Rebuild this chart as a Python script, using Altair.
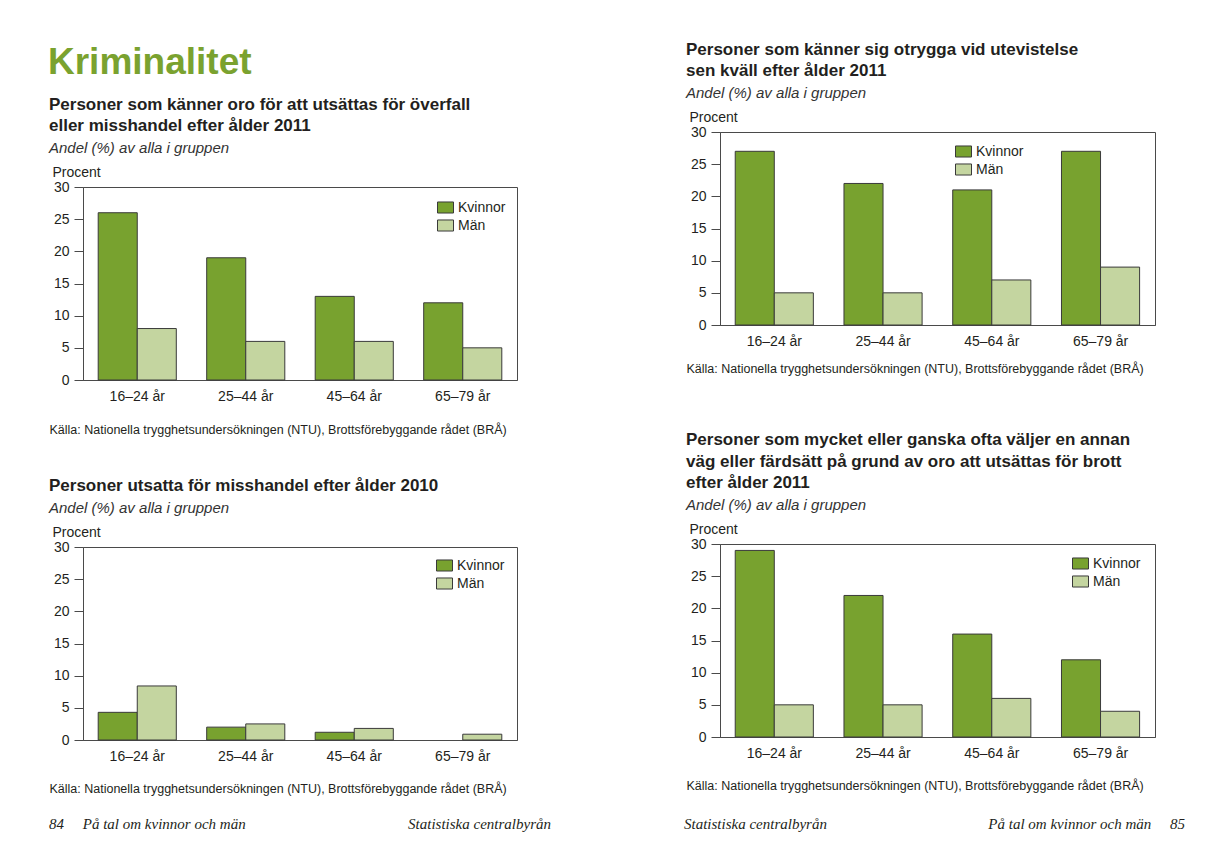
import altair as alt
import pandas as pd

ages = ["16–24 år", "25–44 år", "45–64 år", "65–79 år"]
groups = ["Kvinnor", "Män"]
yticks = [0, 5, 10, 15, 20, 25, 30]

c1_kvinnor = [26, 19, 13, 12]
c1_man = [8, 6, 6, 5]
c2_kvinnor = [27, 22, 21, 27]
c2_man = [5, 5, 7, 9]
c3_kvinnor = [4.3, 2.0, 1.2, None]
c3_man = [8.4, 2.5, 1.8, 0.9]
c4_kvinnor = [29, 22, 16, 12]
c4_man = [5, 5, 6, 4]

c1_title = ["Personer som känner oro för att utsättas för överfall",
            "eller misshandel efter ålder 2011"]
c2_title = ["Personer som känner sig otrygga vid utevistelse",
            "sen kväll efter ålder 2011"]
c3_title = ["Personer utsatta för misshandel efter ålder 2010"]
c4_title = ["Personer som mycket eller ganska ofta väljer en annan",
            "väg eller färdsätt på grund av oro att utsättas för brott",
            "efter ålder 2011"]

header = "Kriminalitet"
subtitle = "Andel (%) av alla i gruppen"
ytitle = "Procent"
source = "Källa: Nationella trygghetsundersökningen (NTU), Brottsförebyggande rådet (BRÅ)"
footer_left = ["84\u00a0\u00a0\u00a0\u00a0\u00a0På tal om kvinnor och män", "Statistiska centralbyrån"]
footer_right = ["Statistiska centralbyrån", "På tal om kvinnor och män\u00a0\u00a0\u00a0\u00a0\u00a085"]

DARK = "#78a22f"
LIGHT = "#c4d5a0"
GREEN_HEAD = "#7aa22f"
INK = "#231f20"
LINE = "#4a4a4a"
FONT = "Liberation Sans"
W = 434
rect = "M-1,-0.69L1,-0.69L1,0.69L-1,0.69Z"


def bar_chart(kv, man, title, width, legend_x, legend_y, src_pad):
    rows = []
    for a, k, m in zip(ages, kv, man):
        if k is not None:
            rows.append({"age": a, "kon": "Kvinnor", "value": k})
        if m is not None:
            rows.append({"age": a, "kon": "Män", "value": m})
    df = pd.DataFrame(rows)
    return alt.Chart(df).mark_bar(stroke="#3a3a3a", strokeWidth=1).encode(
        x=alt.X("age:N", sort=ages,
                scale=alt.Scale(domain=ages, paddingInner=0.28, paddingOuter=0.14),
                axis=alt.Axis(title=source, labelAngle=0, ticks=False, labelPadding=9,
                              labelFontSize=14, titleAnchor="start", titleAlign="left",
                              titleX=-34, titlePadding=src_pad, titleFontWeight="normal",
                              titleFontSize=12.5)),
        xOffset=alt.XOffset("kon:N", sort=groups,
                            scale=alt.Scale(domain=groups, paddingInner=0, paddingOuter=0)),
        y=alt.Y("value:Q", scale=alt.Scale(domain=[0, 30], nice=False),
                axis=alt.Axis(values=yticks, title=ytitle, titleAngle=0, titleAlign="left",
                              titleBaseline="alphabetic", titleX=-31, titleY=-11,
                              titleFontWeight="normal", titleFontSize=14, tickSize=9,
                              labelPadding=5, labelFontSize=14, grid=False)),
        color=alt.Color("kon:N", sort=groups,
                        scale=alt.Scale(domain=groups, range=[DARK, LIGHT]),
                        legend=alt.Legend(title=None, orient="none", legendX=legend_x,
                                          legendY=legend_y, symbolType=rect, symbolSize=256,
                                          symbolStrokeColor="#3a3a3a", symbolStrokeWidth=1,
                                          labelFontSize=14, labelOffset=4, rowPadding=1,
                                          padding=0)),
    ).properties(
        width=width, height=193,
        title=alt.TitleParams(text=title, subtitle=subtitle, anchor="start", frame="group",
                              dx=-34, offset=8),
    )


def text_row(texts, height, dx_left, dx_right, font, size, weight, style, color, dy):
    df = pd.DataFrame({"side": ["left", "right"][:len(texts)], "txt": texts})
    xenc = alt.X("side:N", scale=alt.Scale(type="point", domain=["left", "right"], padding=0),
                 axis=None)
    base = alt.Chart(df).encode(x=xenc, text="txt:N")
    layers = [base.transform_filter(alt.datum.side == "left").mark_text(
        align="left", baseline="alphabetic", dx=dx_left, dy=dy, font=font, fontSize=size,
        fontWeight=weight, fontStyle=style, color=color)]
    if len(texts) > 1:
        layers.append(base.transform_filter(alt.datum.side == "right").mark_text(
            align="right", baseline="alphabetic", dx=dx_right, dy=dy, font=font, fontSize=size,
            fontWeight=weight, fontStyle=style, color=color))
    return alt.layer(*layers).properties(
        width=W, height=height, view=alt.ViewBackground(stroke="transparent"))


c1 = bar_chart(c1_kvinnor, c1_man, c1_title, W, 354, 12, 20)
c2 = bar_chart(c2_kvinnor, c2_man, c2_title, 435, 235, 11, 14)
c3 = bar_chart(c3_kvinnor, c3_man, c3_title, W, 353, 10, 19)
c4 = bar_chart(c4_kvinnor, c4_man, c4_title, 435, 352, 11, 19)

head = text_row([header], 46, -35, 0, FONT, 37, "bold", "normal", GREEN_HEAD, 15)
spacer = text_row([""], 1, 0, 0, FONT, 10, "normal", "normal", INK, 0)

left_top = alt.vconcat(head, c1, spacing=12).resolve_scale(color="independent")
left_col = alt.vconcat(left_top, c3, spacing=40).resolve_scale(color="independent")
right_inner = alt.vconcat(c2, c4, spacing=55).resolve_scale(color="independent")
right_col = alt.vconcat(spacer, right_inner, spacing=1).resolve_scale(color="independent")

top = alt.hconcat(left_col, right_col, spacing=167).resolve_scale(color="independent")
foot = alt.hconcat(
    text_row(footer_left, 10, -34, 34, "Liberation Serif", 15, "normal", "italic", INK, 5),
    text_row(footer_right, 10, -39, 28, "Liberation Serif", 15, "normal", "italic", INK, 5),
    spacing=131,
)

chart = alt.vconcat(top, foot, spacing=21).resolve_scale(color="independent").properties(
    padding={"left": 39, "top": 20, "right": 5, "bottom": 5}
).configure_view(
    stroke=LINE, strokeWidth=1
).configure_axis(
    domainColor=LINE, tickColor=LINE, labelColor=INK, titleColor=INK,
    labelFont=FONT, titleFont=FONT
).configure_legend(
    labelFont=FONT, labelColor=INK
).configure_title(
    font=FONT, fontSize=17, fontWeight="bold", color=INK, lineHeight=21.5,
    subtitleFont=FONT, subtitleFontSize=15, subtitleFontStyle="italic",
    subtitleColor="#333333", subtitlePadding=6
)

chart.save("out.html", embed_options={"renderer": "svg", "actions": False})
